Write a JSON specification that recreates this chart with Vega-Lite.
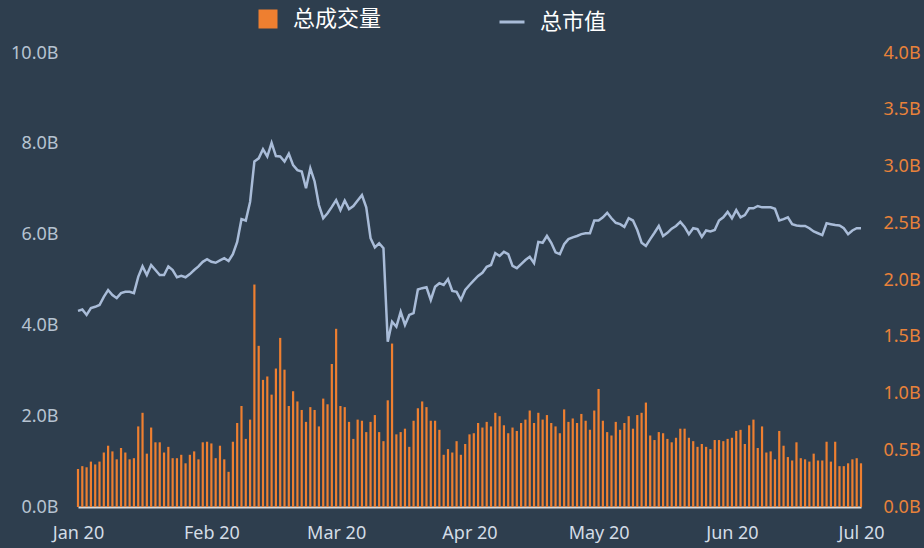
{
  "$schema": "https://vega.github.io/schema/vega-lite/v6.json",
  "width": 783,
  "height": 454,
  "autosize": {"type": "none"},
  "padding": {"left": 78, "top": 53, "right": 63, "bottom": 41},
  "background": "#2e3e4e",
  "config": {
    "view": {"stroke": null},
    "axis": {"grid": false, "ticks": false, "labelFont": "Noto Sans", "labelFontSize": 18}
  },
  "data": {
    "values": [
      {"date": "2020-01-01", "cap": 4.32, "volume": 0.335},
      {"date": "2020-01-02", "cap": 4.35, "volume": 0.36},
      {"date": "2020-01-03", "cap": 4.23, "volume": 0.35},
      {"date": "2020-01-04", "cap": 4.38, "volume": 0.40},
      {"date": "2020-01-05", "cap": 4.41, "volume": 0.375},
      {"date": "2020-01-06", "cap": 4.45, "volume": 0.40},
      {"date": "2020-01-07", "cap": 4.63, "volume": 0.48},
      {"date": "2020-01-08", "cap": 4.78, "volume": 0.54},
      {"date": "2020-01-09", "cap": 4.67, "volume": 0.49},
      {"date": "2020-01-10", "cap": 4.60, "volume": 0.42},
      {"date": "2020-01-11", "cap": 4.71, "volume": 0.52},
      {"date": "2020-01-12", "cap": 4.74, "volume": 0.48},
      {"date": "2020-01-13", "cap": 4.74, "volume": 0.42},
      {"date": "2020-01-14", "cap": 4.71, "volume": 0.43},
      {"date": "2020-01-15", "cap": 5.07, "volume": 0.71},
      {"date": "2020-01-16", "cap": 5.30, "volume": 0.83},
      {"date": "2020-01-17", "cap": 5.11, "volume": 0.47},
      {"date": "2020-01-18", "cap": 5.33, "volume": 0.70},
      {"date": "2020-01-19", "cap": 5.22, "volume": 0.57},
      {"date": "2020-01-20", "cap": 5.11, "volume": 0.57},
      {"date": "2020-01-21", "cap": 5.11, "volume": 0.48},
      {"date": "2020-01-22", "cap": 5.30, "volume": 0.53},
      {"date": "2020-01-23", "cap": 5.22, "volume": 0.43},
      {"date": "2020-01-24", "cap": 5.06, "volume": 0.43},
      {"date": "2020-01-25", "cap": 5.09, "volume": 0.46},
      {"date": "2020-01-26", "cap": 5.06, "volume": 0.385},
      {"date": "2020-01-27", "cap": 5.13, "volume": 0.46},
      {"date": "2020-01-28", "cap": 5.22, "volume": 0.49},
      {"date": "2020-01-29", "cap": 5.30, "volume": 0.42},
      {"date": "2020-01-30", "cap": 5.40, "volume": 0.57},
      {"date": "2020-01-31", "cap": 5.46, "volume": 0.575},
      {"date": "2020-02-01", "cap": 5.40, "volume": 0.56},
      {"date": "2020-02-02", "cap": 5.38, "volume": 0.43},
      {"date": "2020-02-03", "cap": 5.43, "volume": 0.54},
      {"date": "2020-02-04", "cap": 5.48, "volume": 0.42},
      {"date": "2020-02-05", "cap": 5.42, "volume": 0.31},
      {"date": "2020-02-06", "cap": 5.57, "volume": 0.575},
      {"date": "2020-02-07", "cap": 5.84, "volume": 0.74},
      {"date": "2020-02-08", "cap": 6.34, "volume": 0.89},
      {"date": "2020-02-09", "cap": 6.31, "volume": 0.60},
      {"date": "2020-02-10", "cap": 6.72, "volume": 0.77},
      {"date": "2020-02-11", "cap": 7.61, "volume": 1.96},
      {"date": "2020-02-12", "cap": 7.68, "volume": 1.42},
      {"date": "2020-02-13", "cap": 7.88, "volume": 1.12},
      {"date": "2020-02-14", "cap": 7.72, "volume": 1.15},
      {"date": "2020-02-15", "cap": 8.02, "volume": 0.99},
      {"date": "2020-02-16", "cap": 7.73, "volume": 1.22},
      {"date": "2020-02-17", "cap": 7.72, "volume": 1.49},
      {"date": "2020-02-18", "cap": 7.61, "volume": 1.21},
      {"date": "2020-02-19", "cap": 7.78, "volume": 0.89},
      {"date": "2020-02-20", "cap": 7.53, "volume": 1.02},
      {"date": "2020-02-21", "cap": 7.42, "volume": 0.93},
      {"date": "2020-02-22", "cap": 7.39, "volume": 0.855},
      {"date": "2020-02-23", "cap": 7.02, "volume": 0.75},
      {"date": "2020-02-24", "cap": 7.46, "volume": 0.88},
      {"date": "2020-02-25", "cap": 7.17, "volume": 0.855},
      {"date": "2020-02-26", "cap": 6.65, "volume": 0.71},
      {"date": "2020-02-27", "cap": 6.36, "volume": 0.955},
      {"date": "2020-02-28", "cap": 6.47, "volume": 0.905},
      {"date": "2020-02-29", "cap": 6.61, "volume": 1.26},
      {"date": "2020-03-01", "cap": 6.76, "volume": 1.57},
      {"date": "2020-03-02", "cap": 6.54, "volume": 0.89},
      {"date": "2020-03-03", "cap": 6.75, "volume": 0.88},
      {"date": "2020-03-04", "cap": 6.56, "volume": 0.75},
      {"date": "2020-03-05", "cap": 6.63, "volume": 0.60},
      {"date": "2020-03-06", "cap": 6.75, "volume": 0.77},
      {"date": "2020-03-07", "cap": 6.87, "volume": 0.76},
      {"date": "2020-03-08", "cap": 6.60, "volume": 0.66},
      {"date": "2020-03-09", "cap": 5.92, "volume": 0.75},
      {"date": "2020-03-10", "cap": 5.72, "volume": 0.81},
      {"date": "2020-03-11", "cap": 5.81, "volume": 0.66},
      {"date": "2020-03-12", "cap": 5.70, "volume": 0.58},
      {"date": "2020-03-13", "cap": 3.64, "volume": 0.94},
      {"date": "2020-03-14", "cap": 4.08, "volume": 1.44},
      {"date": "2020-03-15", "cap": 3.97, "volume": 0.64},
      {"date": "2020-03-16", "cap": 4.30, "volume": 0.66},
      {"date": "2020-03-17", "cap": 4.01, "volume": 0.69},
      {"date": "2020-03-18", "cap": 4.23, "volume": 0.53},
      {"date": "2020-03-19", "cap": 4.27, "volume": 0.76},
      {"date": "2020-03-20", "cap": 4.79, "volume": 0.87},
      {"date": "2020-03-21", "cap": 4.82, "volume": 0.93},
      {"date": "2020-03-22", "cap": 4.84, "volume": 0.88},
      {"date": "2020-03-23", "cap": 4.56, "volume": 0.76},
      {"date": "2020-03-24", "cap": 4.85, "volume": 0.76},
      {"date": "2020-03-25", "cap": 4.93, "volume": 0.68},
      {"date": "2020-03-26", "cap": 4.89, "volume": 0.46},
      {"date": "2020-03-27", "cap": 5.02, "volume": 0.51},
      {"date": "2020-03-28", "cap": 4.76, "volume": 0.48},
      {"date": "2020-03-29", "cap": 4.74, "volume": 0.58},
      {"date": "2020-03-30", "cap": 4.56, "volume": 0.46},
      {"date": "2020-03-31", "cap": 4.78, "volume": 0.555},
      {"date": "2020-04-01", "cap": 4.89, "volume": 0.64},
      {"date": "2020-04-02", "cap": 4.99, "volume": 0.65},
      {"date": "2020-04-03", "cap": 5.09, "volume": 0.74},
      {"date": "2020-04-04", "cap": 5.16, "volume": 0.70},
      {"date": "2020-04-05", "cap": 5.29, "volume": 0.75},
      {"date": "2020-04-06", "cap": 5.33, "volume": 0.71},
      {"date": "2020-04-07", "cap": 5.59, "volume": 0.83},
      {"date": "2020-04-08", "cap": 5.53, "volume": 0.80},
      {"date": "2020-04-09", "cap": 5.62, "volume": 0.72},
      {"date": "2020-04-10", "cap": 5.57, "volume": 0.65},
      {"date": "2020-04-11", "cap": 5.31, "volume": 0.70},
      {"date": "2020-04-12", "cap": 5.26, "volume": 0.67},
      {"date": "2020-04-13", "cap": 5.35, "volume": 0.74},
      {"date": "2020-04-14", "cap": 5.44, "volume": 0.77},
      {"date": "2020-04-15", "cap": 5.51, "volume": 0.85},
      {"date": "2020-04-16", "cap": 5.37, "volume": 0.74},
      {"date": "2020-04-17", "cap": 5.84, "volume": 0.83},
      {"date": "2020-04-18", "cap": 5.82, "volume": 0.77},
      {"date": "2020-04-19", "cap": 5.97, "volume": 0.81},
      {"date": "2020-04-20", "cap": 5.82, "volume": 0.74},
      {"date": "2020-04-21", "cap": 5.61, "volume": 0.71},
      {"date": "2020-04-22", "cap": 5.57, "volume": 0.65},
      {"date": "2020-04-23", "cap": 5.79, "volume": 0.86},
      {"date": "2020-04-24", "cap": 5.90, "volume": 0.75},
      {"date": "2020-04-25", "cap": 5.94, "volume": 0.78},
      {"date": "2020-04-26", "cap": 5.97, "volume": 0.74},
      {"date": "2020-04-27", "cap": 6.01, "volume": 0.82},
      {"date": "2020-04-28", "cap": 6.03, "volume": 0.76},
      {"date": "2020-04-29", "cap": 6.03, "volume": 0.68},
      {"date": "2020-04-30", "cap": 6.31, "volume": 0.85},
      {"date": "2020-05-01", "cap": 6.31, "volume": 1.04},
      {"date": "2020-05-02", "cap": 6.38, "volume": 0.76},
      {"date": "2020-05-03", "cap": 6.48, "volume": 0.66},
      {"date": "2020-05-04", "cap": 6.36, "volume": 0.63},
      {"date": "2020-05-05", "cap": 6.26, "volume": 0.75},
      {"date": "2020-05-06", "cap": 6.23, "volume": 0.68},
      {"date": "2020-05-07", "cap": 6.17, "volume": 0.74},
      {"date": "2020-05-08", "cap": 6.36, "volume": 0.80},
      {"date": "2020-05-09", "cap": 6.31, "volume": 0.69},
      {"date": "2020-05-10", "cap": 6.10, "volume": 0.81},
      {"date": "2020-05-11", "cap": 5.82, "volume": 0.83},
      {"date": "2020-05-12", "cap": 5.75, "volume": 0.92},
      {"date": "2020-05-13", "cap": 5.90, "volume": 0.63},
      {"date": "2020-05-14", "cap": 6.04, "volume": 0.59},
      {"date": "2020-05-15", "cap": 6.19, "volume": 0.66},
      {"date": "2020-05-16", "cap": 5.97, "volume": 0.65},
      {"date": "2020-05-17", "cap": 6.04, "volume": 0.60},
      {"date": "2020-05-18", "cap": 6.13, "volume": 0.57},
      {"date": "2020-05-19", "cap": 6.19, "volume": 0.61},
      {"date": "2020-05-20", "cap": 6.28, "volume": 0.69},
      {"date": "2020-05-21", "cap": 6.17, "volume": 0.69},
      {"date": "2020-05-22", "cap": 6.01, "volume": 0.61},
      {"date": "2020-05-23", "cap": 6.14, "volume": 0.58},
      {"date": "2020-05-24", "cap": 6.12, "volume": 0.53},
      {"date": "2020-05-25", "cap": 5.95, "volume": 0.555},
      {"date": "2020-05-26", "cap": 6.09, "volume": 0.53},
      {"date": "2020-05-27", "cap": 6.07, "volume": 0.51},
      {"date": "2020-05-28", "cap": 6.10, "volume": 0.59},
      {"date": "2020-05-29", "cap": 6.31, "volume": 0.59},
      {"date": "2020-05-30", "cap": 6.38, "volume": 0.58},
      {"date": "2020-05-31", "cap": 6.50, "volume": 0.60},
      {"date": "2020-06-01", "cap": 6.36, "volume": 0.61},
      {"date": "2020-06-02", "cap": 6.54, "volume": 0.67},
      {"date": "2020-06-03", "cap": 6.38, "volume": 0.68},
      {"date": "2020-06-04", "cap": 6.43, "volume": 0.555},
      {"date": "2020-06-05", "cap": 6.58, "volume": 0.72},
      {"date": "2020-06-06", "cap": 6.58, "volume": 0.77},
      {"date": "2020-06-07", "cap": 6.63, "volume": 0.52},
      {"date": "2020-06-08", "cap": 6.60, "volume": 0.71},
      {"date": "2020-06-09", "cap": 6.60, "volume": 0.48},
      {"date": "2020-06-10", "cap": 6.60, "volume": 0.49},
      {"date": "2020-06-11", "cap": 6.57, "volume": 0.42},
      {"date": "2020-06-12", "cap": 6.31, "volume": 0.67},
      {"date": "2020-06-13", "cap": 6.34, "volume": 0.54},
      {"date": "2020-06-14", "cap": 6.38, "volume": 0.44},
      {"date": "2020-06-15", "cap": 6.23, "volume": 0.41},
      {"date": "2020-06-16", "cap": 6.20, "volume": 0.57},
      {"date": "2020-06-17", "cap": 6.19, "volume": 0.43},
      {"date": "2020-06-18", "cap": 6.19, "volume": 0.42},
      {"date": "2020-06-19", "cap": 6.14, "volume": 0.40},
      {"date": "2020-06-20", "cap": 6.07, "volume": 0.47},
      {"date": "2020-06-21", "cap": 6.03, "volume": 0.41},
      {"date": "2020-06-22", "cap": 5.99, "volume": 0.41},
      {"date": "2020-06-23", "cap": 6.25, "volume": 0.575},
      {"date": "2020-06-24", "cap": 6.23, "volume": 0.40},
      {"date": "2020-06-25", "cap": 6.21, "volume": 0.575},
      {"date": "2020-06-26", "cap": 6.20, "volume": 0.36},
      {"date": "2020-06-27", "cap": 6.14, "volume": 0.36},
      {"date": "2020-06-28", "cap": 6.01, "volume": 0.385},
      {"date": "2020-06-29", "cap": 6.09, "volume": 0.42},
      {"date": "2020-06-30", "cap": 6.14, "volume": 0.43},
      {"date": "2020-07-01", "cap": 6.14, "volume": 0.385}
    ]
  },
  "layer": [
    {
      "mark": {"type": "bar", "width": 2.2},
      "encoding": {
        "x": {
          "field": "date",
          "type": "temporal",
          "scale": {"type": "utc", "padding": 0, "nice": false},
          "axis": {
            "title": null,
            "format": "%b %y",
            "tickCount": {"interval": "month", "step": 1},
            "labelFlush": false,
            "labelOverlap": false,
            "labelColor": "#d3dce6",
            "labelPadding": 17,
            "domainColor": "#d9d9d9",
            "domainWidth": 2
          }
        },
        "y": {
          "field": "volume",
          "type": "quantitative",
          "scale": {"domain": [0, 4], "nice": false},
          "axis": {
            "orient": "right",
            "title": null,
            "values": [0, 0.5, 1, 1.5, 2, 2.5, 3, 3.5, 4],
            "labelExpr": "format(datum.value, '.1f') + 'B'",
            "labelColor": "#e8823a",
            "labelPadding": 22,
            "domain": false
          }
        },
        "fill": {
          "datum": "总成交量",
          "type": "nominal",
          "scale": {"range": ["#ee7f30"]},
          "legend": {
            "orient": "none",
            "legendX": 179,
            "legendY": -45,
            "title": null,
            "symbolType": "square",
            "symbolSize": 361,
            "symbolStrokeWidth": 0,
            "labelFont": "Noto Sans CJK SC",
            "labelFontSize": 22,
            "labelColor": "#ffffff",
            "labelOffset": 14
          }
        }
      }
    },
    {
      "mark": {"type": "line", "strokeWidth": 2.5},
      "encoding": {
        "x": {"field": "date", "type": "temporal"},
        "y": {
          "field": "cap",
          "type": "quantitative",
          "scale": {"domain": [0, 10], "nice": false},
          "axis": {
            "orient": "left",
            "title": null,
            "values": [0, 2, 4, 6, 8, 10],
            "labelExpr": "format(datum.value, '.1f') + 'B'",
            "labelColor": "#b6c3d1",
            "labelPadding": 20,
            "domain": false
          }
        },
        "stroke": {
          "datum": "总市值",
          "type": "nominal",
          "scale": {"range": ["#a9bcd8"]},
          "legend": {
            "orient": "none",
            "legendX": 420,
            "legendY": -45,
            "title": null,
            "symbolType": "stroke",
            "symbolSize": 625,
            "symbolStrokeWidth": 3,
            "labelFont": "Noto Sans CJK SC",
            "labelFontSize": 22,
            "labelColor": "#ffffff",
            "labelOffset": 14
          }
        }
      }
    }
  ],
  "resolve": {"scale": {"y": "independent"}}
}
